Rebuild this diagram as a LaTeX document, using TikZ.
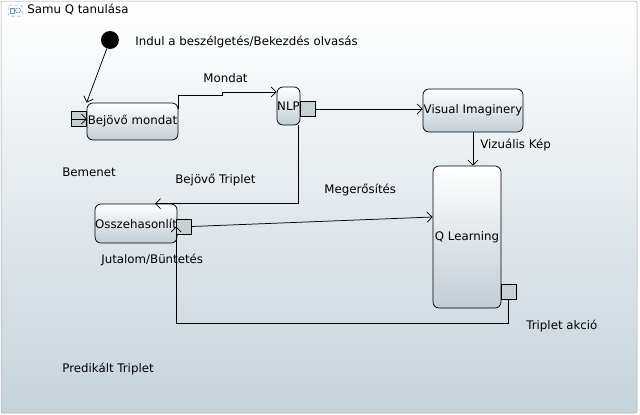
\documentclass[tikz,border=0pt]{standalone}
\usepackage{fontspec}
\setmainfont{DejaVu Sans}
\usetikzlibrary{arrows.meta}
\definecolor{bgbot}{HTML}{C6D3DB}
\definecolor{boxbot}{HTML}{C2CDD5}
\definecolor{portfill}{HTML}{C7D0D3}
\definecolor{iconblue}{HTML}{6F8FAF}
\begin{document}
\begin{tikzpicture}[x=1pt, y=-1pt, line width=0.75pt,
    state/.style={rectangle, rounded corners=6pt, draw, top color=white, bottom color=boxbot, inner sep=0pt, font=\fontsize{11.8}{13}\selectfont},
    port/.style={rectangle, draw, fill=portfill, minimum size=15pt, inner sep=0pt},
    lbl/.style={anchor=west, inner sep=0pt, font=\fontsize{11.8}{13}\selectfont},
    >={Straight Barb[length=5pt,width=10pt]}
]
\useasboundingbox (0,0) rectangle (640,415);
\shade[top color=white, bottom color=bgbot, draw=gray!70, rounded corners=2pt, line width=0.5pt] (1,1) rectangle (637,413);

% title
\draw[iconblue, dashed, rounded corners=1.5pt, line width=0.5pt] (8,5) rectangle (22,16);
\draw[iconblue, line width=0.5pt] (10,8) rectangle (14,13);
\draw[iconblue, line width=0.5pt] (18,10.5) circle (2.5);
\node[lbl] (title) at (27,10) {Samu Q tanulása};

% states
\node[circle, fill, minimum size=18pt] (start) at (110,40) {};
\node[state, minimum width=91pt, minimum height=37pt] (inbox) at (132.5,121.5) {Bejövő mondat};
\node[state, minimum width=23pt, minimum height=38pt] (nlp) at (288.5,106) {NLP};
\node[state, minimum width=100pt, minimum height=43pt] (vi) at (473,110.5) {Visual Imaginery};
\node[state, minimum width=68pt, minimum height=142pt] (ql) at (467,237) {Q Learning};
\node[state, minimum width=82pt, minimum height=39pt] (osz) at (136,223.5) {Osszehasonlít};

% ports
\node[port] (inport) at (79,119) {};
\node[port] (nlpport) at (308,109) {};
\node[port] (qport) at (508.5,291.5) {};
\node[port] (osport) at (184,226.5) {};

% connectors
\draw[->] (start) -- (inbox.north west);
\draw[->] (inport.west) -- (inport.east);
\draw[->] ([yshift=-6pt]inbox.north east) |- (222,95) |- ([yshift=14pt]nlp.west);
\draw[->] (nlpport.east) -- (vi.west |- nlpport.east);
\draw[->] (vi.south) -- (vi.south |- ql.north);
\draw[->] ([xshift=-2pt]nlp.south east) |- ([xshift=19pt]osz.north);
\draw[->] (osport.east) -- ([yshift=20pt]ql.west);
\draw[->] (qport.south) -- ++(0,23.5) -| (osport.west);

% labels
\node[lbl] (startlbl) at (135,42) {Indul a beszélgetés/Bekezdés olvasás};
\node[lbl] (mondat) at (203,78) {Mondat};
\node[lbl] (bemenet) at (62,172) {Bemenet};
\node[lbl] (bejtrip) at (175,180) {Bejövő Triplet};
\node[lbl] (megerosites) at (324,190) {Megerősítés};
\node[lbl] (vizkep) at (480,145) {Vizuális Kép};
\node[lbl] (jutalom) at (101,260) {Jutalom/Büntetés};
\node[lbl] (akcio) at (526,326) {Triplet akció};
\node[lbl] (predtrip) at (62,369) {Predikált Triplet};
\end{tikzpicture}
\end{document}
